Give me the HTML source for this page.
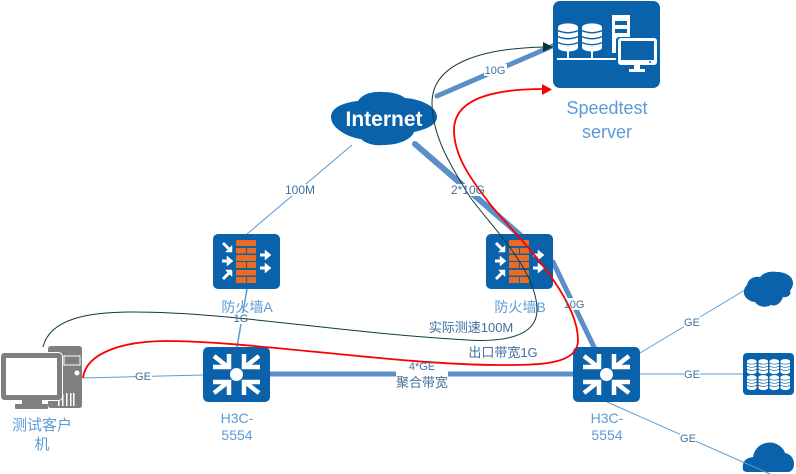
<!DOCTYPE html>
<html><head><meta charset="utf-8">
<style>
html,body{margin:0;padding:0;background:#fff;width:796px;height:474px;overflow:hidden}
svg{display:block}
text{font-family:"Liberation Sans","Noto Sans CJK SC",sans-serif}
.n{fill:#5b9bd5;font-size:14px;text-anchor:middle}
.e{fill:#41719c;font-size:11px;text-anchor:middle}
.c{fill:#41719c;font-size:13px;text-anchor:middle}
.w{fill:#fff;stroke:none}
</style></head><body>
<svg width="796" height="474" viewBox="0 0 796 474" xmlns="http://www.w3.org/2000/svg">
<defs>
<g id="sw">
<rect width="67" height="55" rx="5" fill="#0a62aa"/>
<g fill="none" stroke="#fff" stroke-width="4.500" stroke-linejoin="miter">
<path d="M11 9L25 20M10 20H26V7"/>
<path d="M56 9L42 20M57 20H41V7"/>
<path d="M11 46L25 35M10 35H26V48"/>
<path d="M56 46L42 35M57 35H41V48"/>
</g>
<circle cx="33.500" cy="27.500" r="6.500" fill="#fff"/>
</g>
<g id="fw">
<rect width="67" height="55" rx="5" fill="#0a62aa"/>
<g fill="#ee6a1f">
<rect x="23" y="6" width="20" height="6" rx="1"/>
<rect x="23" y="14" width="10" height="5.500"/><rect x="34" y="14" width="9" height="5.500"/>
<rect x="23" y="21" width="20" height="6" rx="1"/>
<rect x="23" y="28" width="10" height="6"/><rect x="34" y="28" width="9" height="6"/>
<rect x="23" y="36" width="20" height="5.500" rx="1"/>
<rect x="23" y="43" width="10" height="6"/><rect x="34" y="43" width="9" height="6"/>
</g>
<g fill="#fff" stroke="#fff" stroke-width="3">
<path d="M10 9L16 15" fill="none"/><path d="M19 18V11.500L12.500 18Z" stroke-width="0.500"/>
<path d="M9 27H15" fill="none"/><path d="M20 27L14 22V32Z" stroke-width="0.500"/>
<path d="M10 45L16 39" fill="none"/><path d="M19 36V42.500L12.500 36Z" stroke-width="0.500"/>
<path d="M47 21H53" fill="none"/><path d="M58 21L52 16V26Z" stroke-width="0.500"/>
<path d="M47 34H53" fill="none"/><path d="M58 34L52 29V39Z" stroke-width="0.500"/>
</g>
</g>
<g id="cyl">
<ellipse cx="5" cy="2.500" rx="5" ry="2.300" fill="#fff"/>
<rect x="0" y="2.500" width="10" height="12" fill="#fff"/>
<ellipse cx="5" cy="14.500" rx="5" ry="2.300" fill="#fff"/>
<g fill="none" stroke="#0a62aa" stroke-width="0.800">
<path d="M0 4.500Q5 7 10 4.500"/>
<path d="M0 8Q5 10.500 10 8"/>
<path d="M0 11.500Q5 14 10 11.500"/>
</g>
</g>
</defs>

<!-- thin connectors -->
<g stroke="#5b9bd5" stroke-width="1" fill="none">
<path d="M352 145L247 234"/>
<path d="M83 378L203 375"/>
<path d="M640 353L745 290"/>
<path d="M640 374H743"/>
<path d="M607 402L770 474"/>
</g>

<!-- thick connectors -->
<g stroke="#5b8fc8" fill="none" stroke-linecap="round">
<path d="M437 96L555 45" stroke-width="5"/>
<path d="M415 144L520 235" stroke-width="6"/>
<path d="M553 262L594 347" stroke-width="5"/>
<path d="M270 374H573" stroke-width="5"/>
</g>

<!-- Speedtest -->
<rect x="553" y="1" width="107" height="87" rx="7" fill="#0a62aa"/>
<g fill="#fff">
<use href="#cyl" transform="translate(558,23) scale(2,1.700)"/>
<use href="#cyl" transform="translate(582,23) scale(2,1.700)"/>
<rect x="557" y="58" width="62" height="2"/>
<rect x="567" y="50" width="2" height="9"/><rect x="591" y="50" width="2" height="9"/>
<rect x="612" y="15" width="18" height="38"/>
</g>
<rect x="615" y="21" width="12" height="4" fill="#0a62aa"/>
<rect x="615" y="29" width="12" height="4" fill="#0a62aa"/>
<rect x="616" y="37" width="41" height="29" rx="3" fill="#0a62aa"/>
<rect x="618" y="38" width="39" height="27" rx="3" fill="#fff"/>
<rect x="621" y="41" width="33" height="19" fill="#0a62aa"/>
<circle cx="650" cy="62" r="1" fill="#0a62aa"/>
<path d="M634 65h6v4h5v3h-16v-3h5z" fill="#fff"/>

<!-- Internet cloud -->
<path d="M331 117C331 109 340 103 358 101C362 94 372 91 383 92C392 92 400 94 405 98C420 99 437 106 437 117C437 124 428 129 414 132C411 140 398 145 383 145C373 146 365 143 361 139C350 138 331 129 331 117Z" fill="#0a62aa"/>
<text x="384" y="126" fill="#fff" font-size="21" font-weight="bold" text-anchor="middle">Internet</text>

<use href="#fw" x="213" y="234"/>
<use href="#fw" x="486" y="234"/>
<use href="#sw" x="203" y="347"/>
<use href="#sw" x="573" y="347"/>

<!-- PC -->
<path d="M51 346H79Q82 346 82 349V405Q82 408 79 408H51Q48 408 48 405V349Q48 346 51 346Z" fill="#7f7f7f"/>
<rect x="64" y="356" width="16" height="9" fill="none" stroke="#fff" stroke-width="1"/>
<circle cx="77" cy="373" r="2.500" fill="#fff"/>
<g fill="#fff"><rect x="58" y="396" width="1.500" height="10"/><rect x="62" y="394" width="1.500" height="12"/><rect x="66" y="393" width="1.500" height="13"/><rect x="70" y="393" width="1.500" height="13"/><rect x="73" y="393" width="1.500" height="13"/></g>
<rect x="0.500" y="352.500" width="62" height="48" rx="4" fill="#7f7f7f" stroke="#fff" stroke-width="1"/>
<rect x="6" y="358" width="51" height="37" fill="#fff"/>
<path d="M22 400H42V404H22Z" fill="#7f7f7f"/>
<rect x="15" y="404" width="33" height="5" rx="1" fill="#7f7f7f"/>

<!-- right side icons -->
<path d="M747 285C748 279 754 276 760 277C764 272 772 271 777 272C785 272 793 276 793 283C793 287 791 289 790 291C792 295 787 298 783 297C781 303 776 307 771 305C766 308 758 307 755 302C749 302 743 296 744 292C744 289 745 287 747 285Z" fill="#0a62aa"/>
<path d="M743 470C742 462 745 458 753 457C755 445 766 441 774 443C780 445 784 449 785 453C791 454 794 459 794 464C794 469 791 472 788 472H747C745 472 744 471 743 470Z" fill="#0a62aa"/>
<path d="M743 462L770 474" stroke="#5b9bd5" stroke-width="1" fill="none"/>
<rect x="743" y="353" width="51" height="42" rx="4" fill="#0a62aa"/>
<g>
<use href="#cyl" transform="translate(747,359) scale(0.950,0.900)"/><use href="#cyl" transform="translate(758.500,359) scale(0.950,0.900)"/><use href="#cyl" transform="translate(769.500,359) scale(0.950,0.900)"/><use href="#cyl" transform="translate(780.500,359) scale(0.950,0.900)"/>
<use href="#cyl" transform="translate(747,375) scale(0.950,0.900)"/><use href="#cyl" transform="translate(758.500,375) scale(0.950,0.900)"/><use href="#cyl" transform="translate(769.500,375) scale(0.950,0.900)"/><use href="#cyl" transform="translate(780.500,375) scale(0.950,0.900)"/>
</g>

<!-- node labels -->
<g>
<text class="n" x="247" y="312">防火墙A</text>
<text class="n" x="520" y="312">防火墙B</text>
<text class="n" x="237" y="423">H3C-</text>
<text class="n" x="237" y="440">5554</text>
<text class="n" x="607" y="423">H3C-</text>
<text class="n" x="607" y="440">5554</text>
<text class="n" x="42" y="430" style="font-size:15px">测试客户</text>
<text class="n" x="42" y="449" style="font-size:15px">机</text>
<text class="n" x="607" y="114" style="font-size:18px">Speedtest</text>
<text class="n" x="607" y="138" style="font-size:18px">server</text>
</g>

<path d="M247 289L237 347" stroke="#5b9bd5" stroke-width="1.500" fill="none"/>

<!-- label halos -->
<g class="w">
<rect x="484" y="64" width="23" height="12"/>
<rect x="450" y="184" width="36" height="12"/>
<rect x="284" y="184" width="32" height="12"/>
<rect x="232" y="313" width="18" height="11"/>
<rect x="136" y="370" width="16" height="12"/>
<rect x="564" y="298" width="20" height="12"/>
<rect x="684" y="316" width="16" height="12"/>
<rect x="684" y="368" width="16" height="12"/>
<rect x="680" y="432" width="16" height="12"/>
<rect x="396" y="360" width="52" height="30"/>
</g>

<!-- curves -->
<path d="M43 347C50 318 90 312 133 312C230 312 330 332 467 340C500 342 537 338 537 310C537 270 490 225 470 197C450 165 432 135 432 103C432 60 490 48 545 47" fill="none" stroke="#103c3c" stroke-width="1"/>
<path d="M553 47L543 42V52Z" fill="#0b3535"/>
<path d="M83 378C86 352 125 341 167 341C250 341 400 365 500 365C540 365 578 365 578 340C578 290 500 220 487 200C470 178 454 155 454 130C454 100 490 89 544 89" fill="none" stroke="#fb0000" stroke-width="1.800"/>
<path d="M552 89.500L542 84V95Z" fill="#fb0000"/>

<!-- edge labels -->
<g>
<text class="e" x="495" y="74">10G</text>
<text class="e" x="468" y="194" style="font-size:12px">2*10G</text>
<text class="e" x="300" y="194" style="font-size:12px">100M</text>
<text class="e" x="241" y="322">1G</text>
<text class="e" x="143" y="380">GE</text>
<text class="e" x="574" y="308">10G</text>
<text class="e" x="692" y="326">GE</text>
<text class="e" x="692" y="378">GE</text>
<text class="e" x="688" y="442">GE</text>
<text class="e" x="422" y="370">4*GE</text>
<text class="c" x="422" y="387">聚合带宽</text>
<text class="c" x="471" y="332">实际测速100M</text>
<text class="c" x="503" y="357">出口带宽1G</text>
</g>
</svg>
</body></html>
